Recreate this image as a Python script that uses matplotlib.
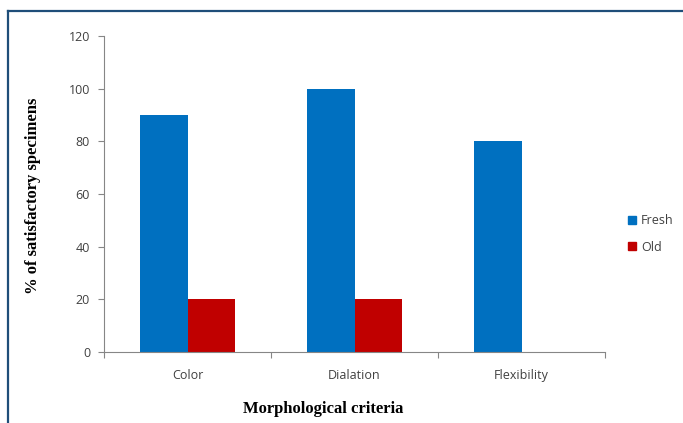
import numpy as np
import matplotlib.pyplot as plt
from matplotlib.patches import Rectangle
from matplotlib.lines import Line2D

categories = ["Color", "Dialation", "Flexibility"]
fresh = [90, 100, 80]
old = [20, 20, 0]
yticks = [0, 20, 40, 60, 80, 100, 120]

blue = "#0070c0"
red = "#c00000"
grey = "#868686"
tick_font = {"family": "Open Sans", "size": 9, "color": "#404040"}
title_font = {"family": "Liberation Serif", "size": 12, "weight": "bold"}

fig = plt.figure(figsize=(6.83, 4.23), dpi=100)

# outer frame (only top and left visible in the crop)
fig.add_artist(Line2D([8 / 683, 8 / 683], [0, 1 - 11.5 / 423], color="#1f4e79", lw=1.6))
fig.add_artist(Line2D([8 / 683, 1], [1 - 11.5 / 423, 1 - 11.5 / 423], color="#1f4e79", lw=1.6))

ax = fig.add_axes([104 / 683, 1 - 352 / 423, 501 / 683, 316 / 423])

x = np.arange(len(categories))
w = 0.287
ax.bar(x - w / 2, fresh, w, color=blue, label="Fresh")
ax.bar(x + w / 2, old, w, color=red, label="Old")

ax.set_xlim(-0.5, len(categories) - 0.5)
ax.set_ylim(0, 120)
ax.set_yticks(yticks)
ax.set_yticklabels([str(v) for v in yticks], fontdict=tick_font)
ax.set_xticks(x)
ax.set_xticklabels(categories, fontdict=tick_font)
ax.set_xticks(np.arange(-0.5, len(categories)), minor=True)
ax.tick_params(axis="x", which="major", length=0, pad=12)
ax.tick_params(axis="x", which="minor", length=4, color=grey, width=0.8)
ax.tick_params(axis="y", length=4, color=grey, width=0.8, pad=6)

for s in ["top", "right"]:
    ax.spines[s].set_visible(False)
for s in ["left", "bottom"]:
    ax.spines[s].set_color(grey)
    ax.spines[s].set_linewidth(0.8)

fig.text(33 / 683, 1 - 196 / 423, "% of satisfactory specimens", rotation=90,
         ha="center", va="center", **title_font)
fig.text(323 / 683, 1 - 409 / 423, "Morphological criteria",
         ha="center", va="center", **title_font)

handles = [Rectangle((0, 0), 1, 1, color=blue), Rectangle((0, 0), 1, 1, color=red)]
fig.legend(handles, ["Fresh", "Old"], loc="center left",
           bbox_to_anchor=(617 / 683, 1 - 234 / 423), frameon=False,
           handlelength=0.6, handleheight=0.6, handletextpad=0.4,
           labelspacing=1.1, prop={"family": "Open Sans", "size": 9},
           labelcolor="#404040")

fig.savefig("out.png", dpi=100)
